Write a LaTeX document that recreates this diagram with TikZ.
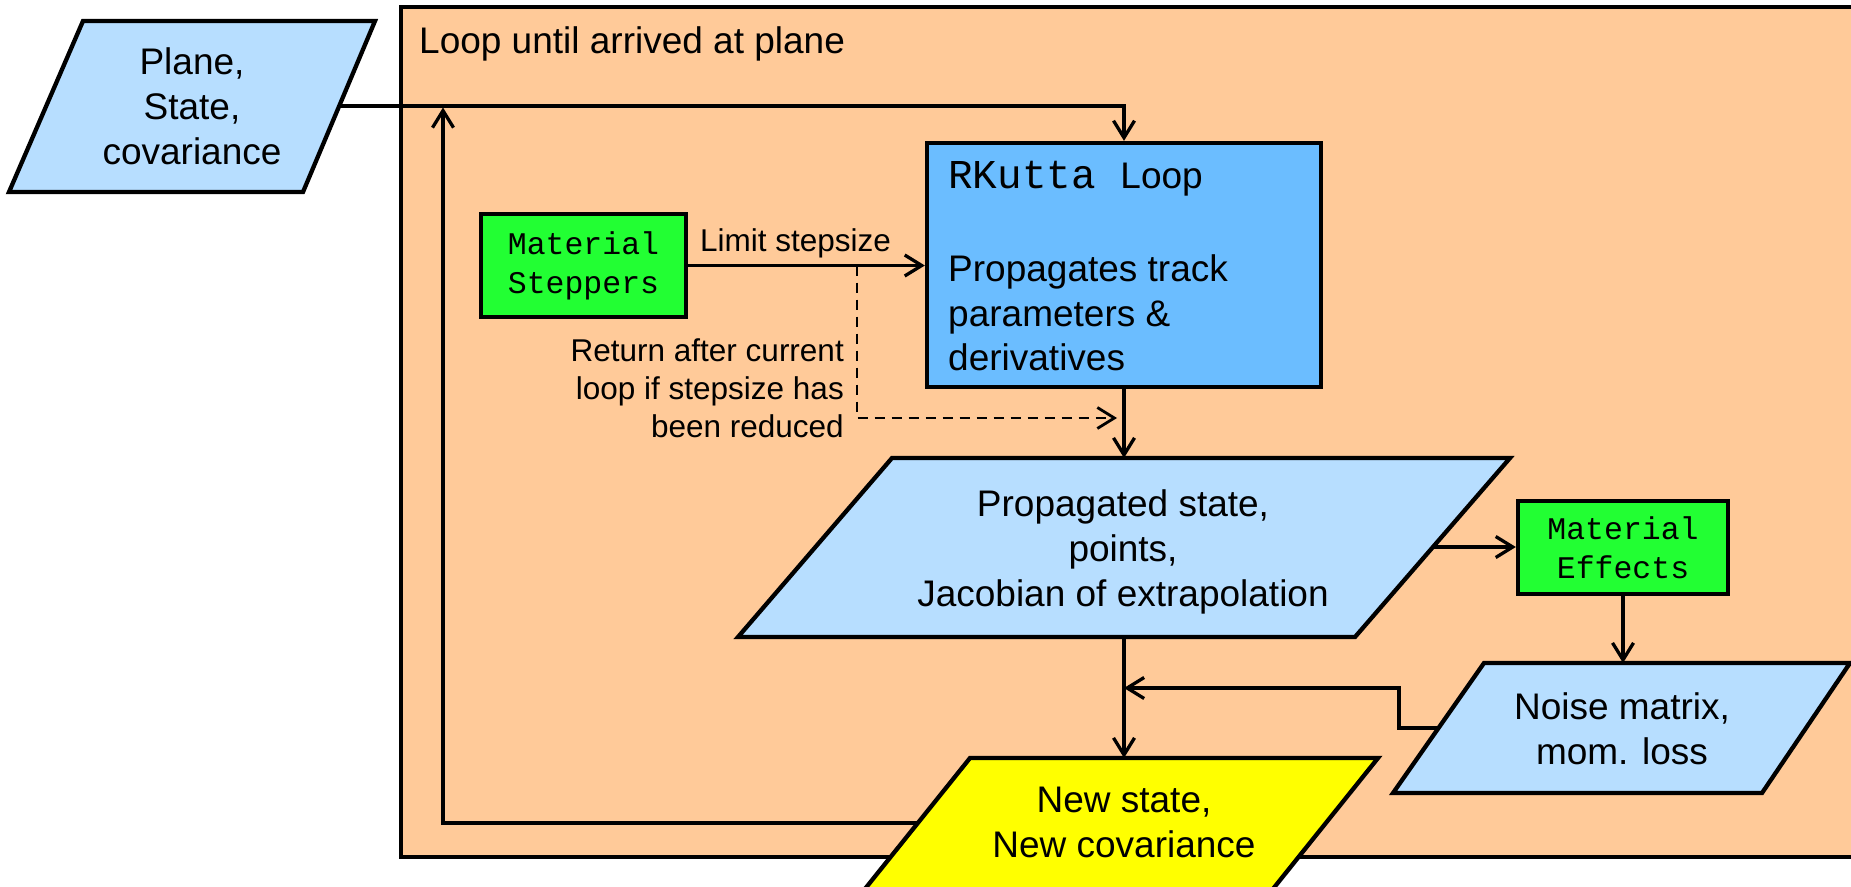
\documentclass[tikz,border=0pt]{standalone}
\usepackage{fontspec}
\setmainfont{Liberation Sans}
\newfontfamily\codefont{Liberation Mono}
\usetikzlibrary{arrows.meta}

\definecolor{loopfill}{RGB}{255,202,153}
\definecolor{datafill}{RGB}{183,222,255}
\definecolor{rkfill}{RGB}{107,189,255}
\definecolor{matfill}{RGB}{34,255,51}
\definecolor{resultfill}{RGB}{255,255,0}

\tikzset{
  shapeline/.style={draw=black, line width=4.3pt, line join=miter},
  conn/.style={draw=black, line width=3.3pt,
    -{Straight Barb[length=17pt,width=21pt]}},
  dashconn/.style={draw=black, line width=2.8pt, dash pattern=on 10pt off 7pt,
    -{Straight Barb[length=17pt,width=21pt]}},
  bodytext/.style={font=\fontsize{37}{45}\selectfont, align=center, inner sep=0pt},
  labeltext/.style={font=\fontsize{31.5}{38}\selectfont, inner sep=0pt},
  matbox/.style={shapeline, fill=matfill, rectangle, inner sep=0pt, align=center,
    font=\codefont\fontsize{31.5}{39}\selectfont},
}

\begin{document}
\begin{tikzpicture}[x=1pt,y=-1pt]
\useasboundingbox (0,0) rectangle (1851,886);
\fill[white] (0,0) rectangle (1851,886);

\begin{scope}
\clip (0,0) rectangle (1851,886);

% outer loop frame
\draw[shapeline, fill=loopfill] (401,7) rectangle (1875,857);
\node[bodytext, anchor=base west] (looptitle) at (419,53) {Loop until arrived at plane};

% anchor points on the slanted shapes
\coordinate (planeout) at (339,106);
\coordinate (proptop) at (1124,458);
\coordinate (propright) at (1432,547);
\coordinate (propbottom) at (1124,637);
\coordinate (noisetop) at (1623,663);
\coordinate (noiseleft) at (1438.5,728);
\coordinate (noisejog) at (1399,688);
\coordinate (merge) at (1124,688);
\coordinate (newtop) at (1124,758);
\coordinate (newleft) at (918,823);
\coordinate (loopcorner) at (443,823);
\coordinate (loopup) at (443,107.5);
\coordinate (dashstart) at (857,265.5);
\coordinate (dashend) at (1117,418);

% boxes
\node[shapeline, fill=rkfill, rectangle, minimum width=394pt, minimum height=244pt,
      inner sep=0pt] (rkbox) at (1124,265) {};
\node[bodytext, align=left, anchor=west, font=\fontsize{37}{44.5}\selectfont]
  (rktext) at (948,266)
  {{\fontsize{41}{44.5}\codefont RKutta }Loop\\[48.8pt]Propagates track\\parameters \&\\derivatives};

\node[matbox, minimum width=205pt, minimum height=103pt] (steppers) at (583.5,265.5)
  {Material\\Steppers};
\node[matbox, minimum width=210pt, minimum height=93pt] (effects) at (1623,547.5)
  {Material\\Effects};

% connectors
\draw[conn] (planeout) -- (planeout -| rkbox.north) -- (rkbox.north);
\draw[conn] (newleft) -- (loopcorner) -- (loopup);
\draw[conn] (steppers.east) -- (steppers.east -| rkbox.west);
\node[labeltext, anchor=base west] (limitlabel) at (700,251) {Limit stepsize};
\draw[dashconn] (dashstart) |- (dashend);
\node[labeltext, align=right, anchor=east] (returnlabel) at (844,388.5)
  {Return after current\\loop if stepsize has\\been reduced};
\draw[conn] (rkbox.south) -- (proptop);
\draw[conn] (propright) -- (propright -| effects.west);
\draw[conn] (effects.south) -- (noisetop);
\draw[conn] (noiseleft) -| (noisejog) -- (merge);
\draw[conn] (propbottom) -- (newtop);

% data shapes
\draw[shapeline, fill=datafill] (83,21) -- (375,21) -- (303,192) -- (9,192) -- cycle;
\node[bodytext] (plane) at (192,106) {Plane,\\State,\\covariance};

\draw[shapeline, fill=datafill] (892,458) -- (1510,458) -- (1355,637) -- (738,637) -- cycle;
\node[bodytext] (propagated) at (1123,551.5)
  {Propagated state,\\points,\\Jacobian of extrapolation};

\draw[shapeline, fill=datafill] (1484,663) -- (1850,663) -- (1762,793) -- (1393,793) -- cycle;
\node[bodytext] (noise) at (1622,729) {Noise matrix,\\mom. loss};

\draw[shapeline, fill=resultfill] (970,758) -- (1378,758) -- (1248,920) -- (840,920) -- cycle;
\node[bodytext] (newstate) at (1124,822) {New state,\\New covariance};
\end{scope}
\end{tikzpicture}
\end{document}
